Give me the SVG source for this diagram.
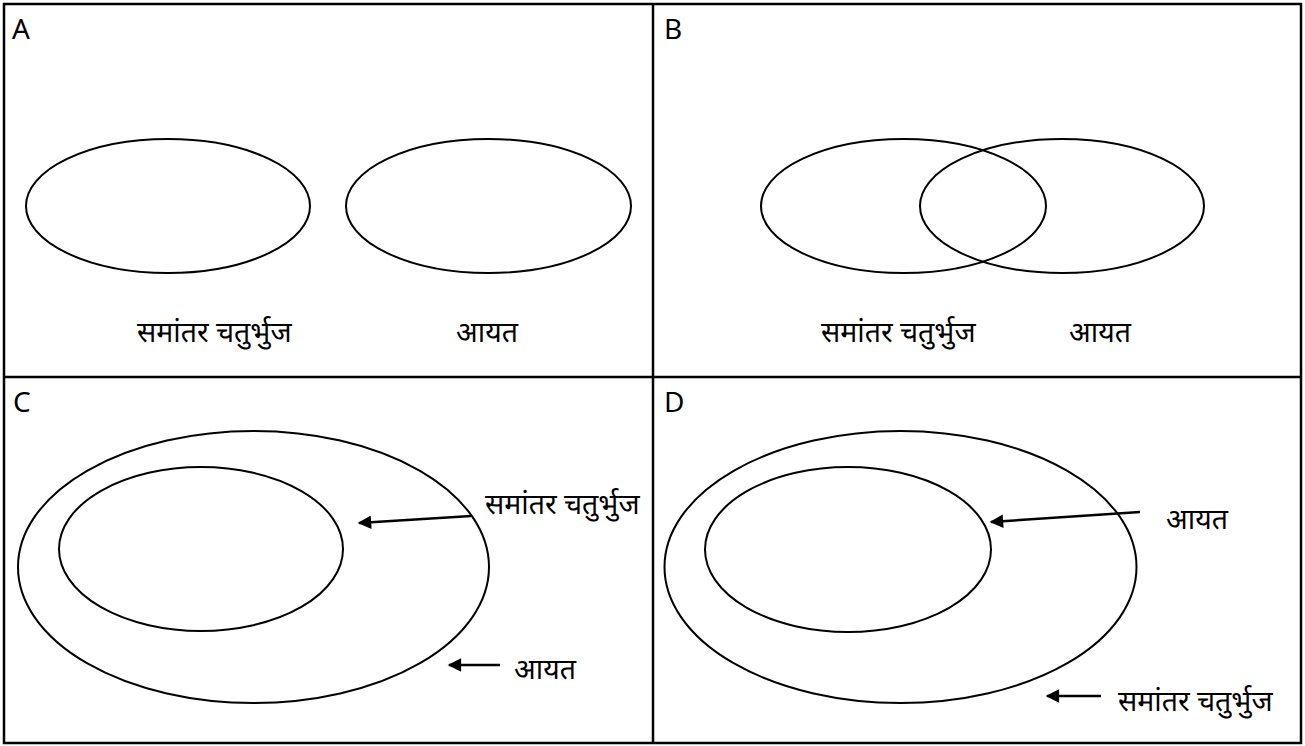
<svg xmlns="http://www.w3.org/2000/svg" width="1305" height="746" viewBox="0 0 1305 746">
<style>
.frame{fill:none;stroke:#000;stroke-width:2.5}
.set{fill:none;stroke:#000;stroke-width:2}
.lbl{font-family:"Noto Sans","Open Sans",sans-serif;font-size:28px;fill:#000}
.hi{font-family:"Noto Sans","Noto Sans Devanagari",sans-serif;font-size:28.5px;fill:#000}
.conn{stroke:#000;stroke-width:2.5;fill:none}
</style>
<defs>
<marker id="ah" viewBox="0 0 10 10" refX="9" refY="5" markerWidth="6" markerHeight="5.4" orient="auto" markerUnits="strokeWidth">
<path d="M0,0 L10,5 L0,10 z" fill="#000"/>
</marker>
</defs>
<rect width="1305" height="746" fill="#fff"/>
<g id="frame">
<rect class="frame" x="4" y="4" width="1297" height="739"/>
<line class="frame" x1="653" y1="4" x2="653" y2="743"/>
<line class="frame" x1="4" y1="377" x2="1301" y2="377"/>
</g>
<g id="panelA">
<text class="lbl" x="12" y="39">A</text>
<ellipse class="set" cx="168" cy="206" rx="142" ry="67"/>
<ellipse class="set" cx="488.5" cy="206" rx="142.5" ry="67"/>
<text class="hi" x="137" y="342">समांतर चतुर्भुज</text>
<text class="hi" x="456" y="342">आयत</text>
</g>
<g id="panelB">
<text class="lbl" x="664" y="39">B</text>
<ellipse class="set" cx="903.5" cy="206" rx="142.5" ry="67"/>
<ellipse class="set" cx="1062" cy="206" rx="142" ry="67"/>
<text class="hi" x="821" y="342">समांतर चतुर्भुज</text>
<text class="hi" x="1069" y="342">आयत</text>
</g>
<g id="panelC">
<text class="lbl" x="13" y="412">C</text>
<ellipse class="set" cx="253.5" cy="567" rx="235.5" ry="136"/>
<ellipse class="set" cx="201" cy="549" rx="142" ry="82"/>
<text class="hi" x="485" y="514">समांतर चतुर्भुज</text>
<text class="hi" x="514" y="679">आयत</text>
</g>
<g id="panelD">
<text class="lbl" x="664" y="412">D</text>
<ellipse class="set" cx="900.5" cy="567" rx="236" ry="136"/>
<ellipse class="set" cx="848" cy="549.5" rx="143" ry="82.5"/>
<text class="hi" x="1166" y="529">आयत</text>
<text class="hi" x="1118" y="711">समांतर चतुर्भुज</text>
</g>
<g id="connectors">
<line class="conn" x1="471" y1="516" x2="359" y2="523" marker-end="url(#ah)"/>
<line class="conn" x1="500" y1="665" x2="449" y2="665" marker-end="url(#ah)"/>
<line class="conn" x1="1140" y1="512" x2="991" y2="522" marker-end="url(#ah)"/>
<line class="conn" x1="1101" y1="696" x2="1047" y2="696" marker-end="url(#ah)"/>
</g>
</svg>
